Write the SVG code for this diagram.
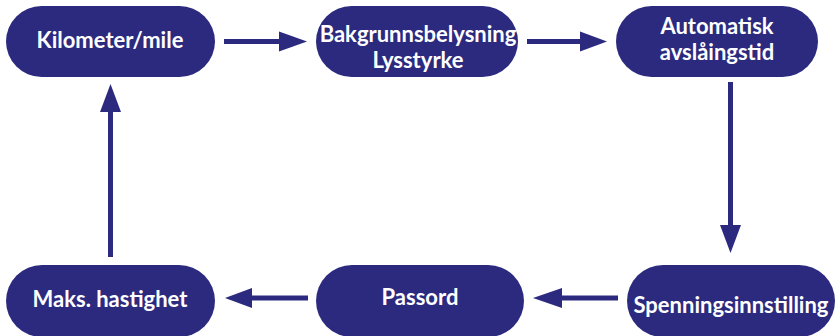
<svg xmlns="http://www.w3.org/2000/svg" width="839" height="336" viewBox="0 0 839 336">
<style>
.n{fill:#2b2a7f}
.t{fill:#fff;font-family:Lato,"Open Sans",sans-serif;font-weight:bold;font-size:22px;text-anchor:middle}
.c{stroke:#2b2a7f;stroke-width:5;fill:none}
.h{fill:#2b2a7f}
</style>
<rect width="839" height="336" fill="#fff"/>
<g id="n1"><rect class="n" x="6" y="6" width="209" height="71" rx="35.5"/><text class="t" x="110" y="48">Kilometer/mile</text></g>
<g id="n2"><rect class="n" x="316" y="6" width="202" height="71" rx="35.5"/><text class="t" x="418" y="42">Bakgrunnsbelysning</text><text class="t" x="418" y="68">Lysstyrke</text></g>
<g id="n3"><rect class="n" x="616" y="6" width="202" height="71" rx="35.5"/><text class="t" x="717" y="34">Automatisk</text><text class="t" x="717" y="60">avslåingstid</text></g>
<g id="n4"><rect class="n" x="627" y="265" width="208" height="72" rx="36"/><text class="t" x="731" y="313">Spenningsinnstilling</text></g>
<g id="n5"><rect class="n" x="316" y="265" width="208" height="72" rx="36"/><text class="t" x="420" y="305">Passord</text></g>
<g id="n6"><rect class="n" x="6" y="265" width="209" height="72" rx="36"/><text class="t" x="110" y="307">Maks. hastighet</text></g>
<g id="connectors">
<line class="c" x1="224" y1="41.5" x2="281" y2="41.5"/><polygon class="h" points="279,31.5 307,41.5 279,51.5"/>
<line class="c" x1="527" y1="41.5" x2="582" y2="41.5"/><polygon class="h" points="580,31.5 607,41.5 580,51.5"/>
<line class="c" x1="730.5" y1="82" x2="730.5" y2="227"/><polygon class="h" points="720,225 741,225 730.5,253"/>
<line class="c" x1="618" y1="298" x2="560" y2="298"/><polygon class="h" points="562,288 533,298 562,308"/>
<line class="c" x1="308" y1="298" x2="250" y2="298"/><polygon class="h" points="252,288 225,298 252,308"/>
<line class="c" x1="110.5" y1="257" x2="110.5" y2="110"/><polygon class="h" points="100,112 121,112 110.5,84"/>
</g>
</svg>
